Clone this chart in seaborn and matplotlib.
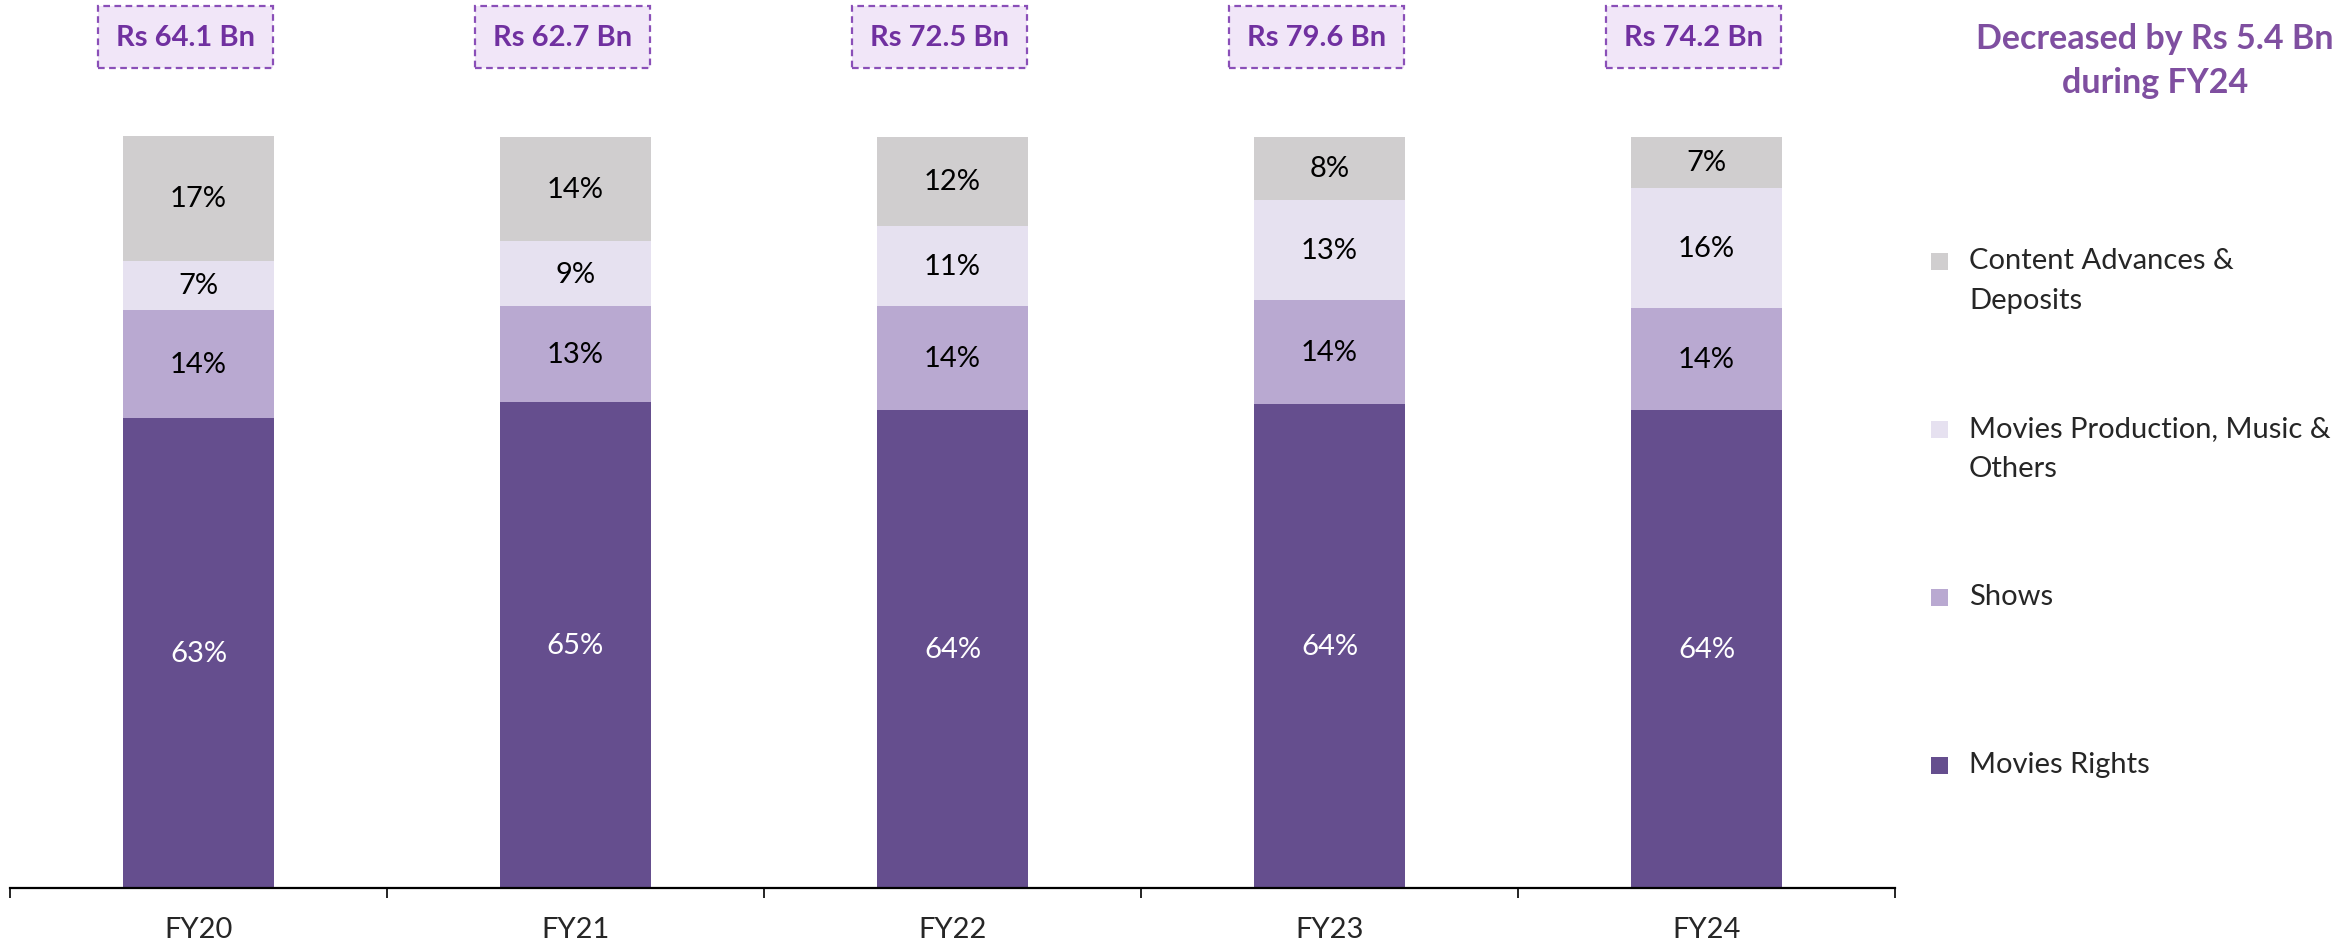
import matplotlib
matplotlib.use("Agg")
import matplotlib.pyplot as plt
import numpy as np
import pandas as pd
import seaborn as sns
from matplotlib.patches import Rectangle

# --- données ---
years = ["FY20", "FY21", "FY22", "FY23", "FY24"]
movies_rights = [62.6, 64.7, 63.6, 64.4, 63.6]
shows = [14.3, 12.7, 13.9, 13.8, 13.6]
movies_prod = [6.6, 8.7, 10.6, 13.4, 15.9]
content_adv = [16.6, 13.9, 11.9, 8.4, 6.9]
totals = ["Rs 64.1 Bn", "Rs 62.7 Bn", "Rs 72.5 Bn", "Rs 79.6 Bn", "Rs 74.2 Bn"]
segment_names = ["Movies Rights", "Shows",
                 "Movies Production, Music &\nOthers",
                 "Content Advances &\nDeposits"]
note = "Decreased by Rs 5.4 Bn\nduring FY24"

colors = ["#654E8E", "#B9A9D1", "#E6E1F0", "#D0CECF"]
label_colors = ["white", "black", "black", "black"]
PURPLE = "#7030A0"

sns.set_theme(style="white")
plt.rcParams["font.family"] = ["Lato", "DejaVu Sans"]

df = pd.DataFrame({
    "year": years,
    segment_names[0]: movies_rights,
    segment_names[1]: shows,
    segment_names[2]: movies_prod,
    segment_names[3]: content_adv,
})
cum = df[segment_names].cumsum(axis=1)

fig = plt.figure(figsize=(23.39, 9.45), dpi=100)
ax = fig.add_axes([10 / 2339, 56 / 945, 1885 / 2339, 889 / 945])

# barres empilées : on dessine du cumul le plus haut vers le plus bas
for i in reversed(range(len(segment_names))):
    sns.barplot(x=df["year"], y=cum.iloc[:, i], color=colors[i], saturation=1,
                width=0.4, linewidth=0, ax=ax)

# étiquettes des segments
for j in range(len(years)):
    base = 0.0
    for i, seg in enumerate(segment_names):
        v = df.loc[j, seg]
        ax.text(j, base + v / 2, f"{v:.0f}%", ha="center", va="center",
                fontsize=21, color=label_colors[i])
        base += v

# totaux en haut (boîtes pointillées)
for j, t in enumerate(totals):
    ax.text(j - 0.035, 113.2, t, ha="center", va="center", fontsize=21,
            fontweight="bold", color=PURPLE,
            bbox=dict(boxstyle="square,pad=0.62", fc="#F1E6F8", ec="#8A4FB8",
                      ls=(0, (3, 2)), lw=1.6))

ax.set_xlim(-0.5, len(years) - 0.5)
ax.set_ylim(0, 118.3)
ax.set_xlabel(""); ax.set_ylabel("")
ax.set_yticks([])
for s in ["top", "right", "left"]:
    ax.spines[s].set_visible(False)
ax.spines["bottom"].set_color("black")
ax.spines["bottom"].set_linewidth(1.6)
ax.set_xticks(range(len(years)))
ax.set_xticklabels(years, fontsize=21)
ax.set_xticks(np.arange(-0.5, len(years)), minor=True)
ax.tick_params(axis="x", which="major", length=0, pad=20)
ax.tick_params(axis="x", which="minor", length=7, width=1.2, color="black",
               direction="out", bottom=True)

# légende manuelle à droite
leg_order = list(reversed(range(len(segment_names))))
for k, i in enumerate(leg_order):
    y = 1 - (262 + 168 * k) / 945
    fig.patches.append(Rectangle((1931 / 2339, y - 9 / 945), 17 / 2339, 17 / 945,
                                 transform=fig.transFigure, fc=colors[i], ec="none"))
    fig.text(1969 / 2339, y + 14 / 945, segment_names[i], ha="left", va="top",
             fontsize=21, linespacing=1.68)

fig.text(2155 / 2339, 1 - 61 / 945, note, ha="center", va="center", fontsize=24.5,
         fontweight="bold", color="#7F4FA0", linespacing=1.45)

fig.savefig("out.png", dpi=100)
